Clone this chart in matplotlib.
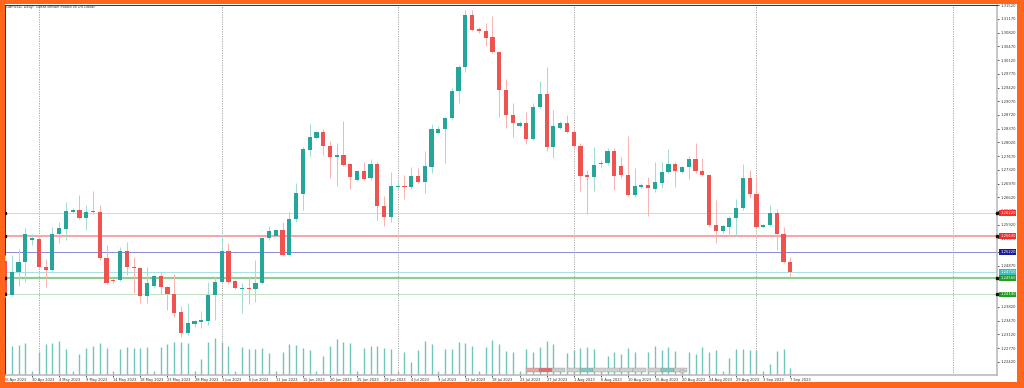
import matplotlib
matplotlib.use("Agg")
import matplotlib.pyplot as plt
from matplotlib.patches import Rectangle
import matplotlib.transforms as mtransforms

# ---------------- data ----------------
opens = [1.2499,1.2412,1.2471,1.2497,1.2553,1.2555,1.2484,1.2476,1.2568,1.2581,
         1.2624,1.2629,1.2609,1.2624,1.2624,1.2507,1.2451,1.2451,1.2525,1.2484,
         1.2481,1.2410,1.2435,1.2461,1.2433,1.2415,1.2369,1.2315,1.2338,1.2344,
         1.2346,1.2412,1.2446,1.2525,1.2448,1.2428,1.2430,1.2428,1.2443,1.2558,
         1.2563,1.2578,1.2515,1.2606,1.2670,1.2783,1.2813,1.2829,1.2793,1.2765,
         1.2770,1.2747,1.2706,1.2729,1.2711,1.2747,1.2640,1.2612,1.2688,1.2691,
         1.2688,1.2716,1.2701,1.2739,1.2826,1.2836,1.2864,1.2933,1.2994,1.3127,
         1.3091,1.3086,1.3071,1.3033,1.2936,1.2872,1.2844,1.2852,1.2811,1.2892,
         1.2926,1.2790,1.2839,1.2852,1.2829,1.2793,1.2719,1.2714,1.2747,1.2749,
         1.2780,1.2742,1.2719,1.2668,1.2688,1.2693,1.2683,1.2698,1.2726,1.2747,
         1.2726,1.2739,1.2760,1.2729,1.2719,1.2591,1.2576,1.2586,1.2609,1.2635,
         1.2711,1.2670,1.2586,1.2591,1.2622,1.2568,1.2497]
highs = [1.2515,1.2515,1.2530,1.2584,1.2568,1.2558,1.2504,1.2586,1.2599,1.2650,
         1.2635,1.2668,1.2642,1.2678,1.2642,1.2540,1.2456,1.2535,1.2548,1.2509,
         1.2484,1.2484,1.2463,1.2471,1.2435,1.2466,1.2384,1.2392,1.2349,1.2372,
         1.2446,1.2458,1.2566,1.2545,1.2451,1.2443,1.2458,1.2502,1.2560,1.2589,
         1.2581,1.2599,1.2624,1.2698,1.2790,1.2849,1.2831,1.2836,1.2806,1.2800,
         1.2857,1.2749,1.2732,1.2752,1.2760,1.2752,1.2665,1.2726,1.2706,1.2719,
         1.2739,1.2737,1.2780,1.2849,1.2844,1.2867,1.2941,1.2999,1.3140,1.3140,
         1.3097,1.3107,1.3125,1.3035,1.2964,1.2903,1.2857,1.2880,1.2903,1.2959,
         1.2994,1.2885,1.2857,1.2872,1.2834,1.2800,1.2732,1.2790,1.2757,1.2788,
         1.2788,1.2765,1.2818,1.2737,1.2698,1.2714,1.2752,1.2752,1.2785,1.2752,
         1.2742,1.2767,1.2800,1.2762,1.2721,1.2655,1.2591,1.2614,1.2657,1.2747,
         1.2732,1.2711,1.2594,1.2642,1.2632,1.2586,1.2509]
lows = [1.2407,1.2410,1.2435,1.2446,1.2540,1.2481,1.2433,1.2474,1.2545,1.2553,
        1.2622,1.2606,1.2578,1.2619,1.2502,1.2440,1.2443,1.2448,1.2463,1.2418,
        1.2392,1.2392,1.2433,1.2415,1.2374,1.2356,1.2305,1.2310,1.2331,1.2328,
        1.2336,1.2349,1.2443,1.2440,1.2428,1.2366,1.2389,1.2394,1.2440,1.2553,
        1.2560,1.2512,1.2512,1.2599,1.2629,1.2767,1.2811,1.2770,1.2711,1.2691,
        1.2742,1.2683,1.2703,1.2706,1.2706,1.2604,1.2589,1.2599,1.2683,1.2657,
        1.2683,1.2698,1.2673,1.2724,1.2824,1.2749,1.2862,1.2903,1.2982,1.3086,
        1.3081,1.3048,1.3030,1.2867,1.2839,1.2816,1.2841,1.2798,1.2808,1.2890,
        1.2780,1.2762,1.2836,1.2826,1.2788,1.2678,1.2619,1.2678,1.2739,1.2744,
        1.2680,1.2711,1.2665,1.2663,1.2686,1.2614,1.2675,1.2686,1.2724,1.2688,
        1.2724,1.2709,1.2724,1.2716,1.2589,1.2545,1.2571,1.2563,1.2563,1.2629,
        1.2660,1.2584,1.2584,1.2589,1.2527,1.2494,1.2461]
closes = [1.2412,1.2471,1.2497,1.2568,1.2558,1.2484,1.2476,1.2568,1.2584,1.2627,
          1.2629,1.2609,1.2624,1.2627,1.2507,1.2443,1.2448,1.2525,1.2484,1.2481,
          1.2410,1.2443,1.2461,1.2433,1.2415,1.2366,1.2315,1.2341,1.2346,1.2349,
          1.2412,1.2446,1.2525,1.2446,1.2430,1.2430,1.2428,1.2443,1.2558,1.2576,
          1.2578,1.2515,1.2606,1.2673,1.2785,1.2816,1.2829,1.2793,1.2765,1.2770,
          1.2744,1.2714,1.2729,1.2709,1.2747,1.2640,1.2612,1.2691,1.2691,1.2688,
          1.2716,1.2701,1.2742,1.2836,1.2836,1.2864,1.2933,1.2994,1.3127,1.3089,
          1.3086,1.3069,1.3033,1.2936,1.2872,1.2852,1.2852,1.2811,1.2892,1.2926,
          1.2790,1.2844,1.2852,1.2829,1.2793,1.2716,1.2714,1.2744,1.2749,1.2780,
          1.2716,1.2719,1.2668,1.2691,1.2693,1.2686,1.2701,1.2726,1.2747,1.2729,
          1.2739,1.2760,1.2729,1.2719,1.2591,1.2576,1.2589,1.2609,1.2635,1.2711,
          1.2670,1.2586,1.2591,1.2622,1.2568,1.2497,1.2471]
# tick volume (thousands)
volumes = [84,87,90,96,12,69,93,96,102,78,
           12,63,81,87,96,81,12,78,84,81,
           81,84,12,84,93,99,99,96,12,48,
           99,111,99,87,12,84,78,78,81,66,
           12,69,93,90,81,75,12,57,87,108,
           99,96,12,81,87,87,81,78,12,69,
           39,75,102,93,12,78,78,99,96,87,
           12,84,105,93,72,69,12,78,69,84,
           102,93,12,66,75,81,84,78,12,57,
           69,63,81,69,12,69,87,75,84,72,
           12,69,63,84,69,75,12,51,78,78,
           75,75,12,33,72,78,21]

first_label = "26 Apr 2023"
tick_idx = list(range(4, 117, 4))
tick_labels = ["30 Apr 2023", "4 May 2023", "9 May 2023", "14 May 2023", "18 May 2023",
               "23 May 2023", "28 May 2023", "1 Jun 2023", "6 Jun 2023", "11 Jun 2023",
               "15 Jun 2023", "20 Jun 2023", "25 Jun 2023", "29 Jun 2023", "4 Jul 2023",
               "9 Jul 2023", "13 Jul 2023", "18 Jul 2023", "23 Jul 2023", "27 Jul 2023",
               "1 Aug 2023", "6 Aug 2023", "10 Aug 2023", "15 Aug 2023", "20 Aug 2023",
               "24 Aug 2023", "29 Aug 2023", "3 Sep 2023", "7 Sep 2023"]
month_grid_idx = [5, 32, 58, 84, 111, 140]

price_top = 1.31520
price_step = 0.0035
n_price_labels = 27

hline_prices = [1.2622, 1.2563, 1.2522, 1.2471, 1.2456, 1.2414]
hline_colors = ["#ffc4c4", "#f7a6a6", "#8c8cd8", "#a9e2df", "#92cc92", "#bfe3bf"]
hline_widths = [1.0, 2.0, 1.0, 1.0, 2.2, 1.0]
hline_tag_colors = ["#ff2a2a", "#f52a2a", "#1c1ca0", "#3cbfbf", "#1f9f1f", "#1f9f1f"]
hline_marked = [True, True, False, False, True, True]

title = "GBPUSD, Daily:  Great Britain Pound vs US Dollar"

# ---------------- figure ----------------
W, H = 1024, 388
fig = plt.figure(figsize=(W / 100, H / 100), dpi=100)
fig.patch.set_facecolor("white")
PX = 0.72  # points per pixel

ax_l, ax_r, ax_t, ax_b = 5, 997, 5, 375
rect = [ax_l / W, (H - ax_b) / H, (ax_r - ax_l) / W, (ax_b - ax_t) / H]
bar_px = 6.77
xmax = (ax_r - ax_l) / bar_px
ymin, ymax = 1.22082, 1.31527

# volume axes (behind)
axv = fig.add_axes(rect, zorder=1)
axv.set_xlim(0, xmax)
axv.set_ylim(0, (ax_b - ax_t) * 3)
axv.axis("off")
n = len(opens)
xs = list(range(n))
axv.vlines(xs, 0, volumes, color="#6fc6bd", linewidth=1.4 * PX)

# price axes
ax = fig.add_axes(rect, zorder=2)
ax.patch.set_alpha(0)
ax.set_xlim(0, xmax)
ax.set_ylim(ymin, ymax)

for gx in month_grid_idx:
    ax.axvline(gx, color="#a8a8a8", linewidth=1.0 * PX, linestyle=(0, (1.2, 1.2)), zorder=1)

for p, c, w in zip(hline_prices, hline_colors, hline_widths):
    ax.axhline(p, color=c, linewidth=w * PX, zorder=2)

bull_body, bear_body = "#26a69a", "#ef5350"
bull_wick, bear_wick = "#a3dbd5", "#f7b4b3"
min_h = 0.00026
for i in xs:
    o, h, l, c = opens[i], highs[i], lows[i], closes[i]
    up = c >= o
    ax.vlines(i, l, h, color=bull_wick if up else bear_wick, linewidth=1.0 * PX, zorder=3)
    lo = min(o, c)
    hh = max(abs(c - o), min_h)
    ax.bar(i, hh, bottom=lo, width=0.62, color=bull_body if up else bear_body,
           linewidth=0, zorder=4)

# frame
for s in ["top", "left"]:
    ax.spines[s].set_color("#3a3a3a")
    ax.spines[s].set_linewidth(1.0 * PX)
for s in ["right", "bottom"]:
    ax.spines[s].set_color("#b8b8b8")
    ax.spines[s].set_linewidth(1.6 * PX)

# price axis labels
yt = [price_top - price_step * k for k in range(n_price_labels)]
ax.yaxis.tick_right()
ax.set_yticks(yt)
ax.set_yticklabels(["%.5f" % v for v in yt])
ax.tick_params(axis="y", direction="out", length=2 * PX, width=0.8 * PX,
               color="#333333", pad=1.2, labelsize=2.7, labelcolor="#333333")

# time axis
ax.set_xticks(tick_idx)
ax.set_xticklabels([])
ax.tick_params(axis="x", direction="out", length=2 * PX, width=0.8 * PX, color="#333333")
tr = mtransforms.blended_transform_factory(ax.transData, ax.transAxes)
off = -4.5 / (ax_b - ax_t)
for xi, lab in zip(tick_idx, tick_labels):
    ax.text(xi, off, lab, transform=tr, ha="left", va="center", fontsize=2.6,
            color="#333333", clip_on=False)
ax.text(-0.15, off, first_label, transform=tr, ha="left", va="center", fontsize=2.6,
        color="#333333", clip_on=False)

# tags on the right for horizontal lines
trr = mtransforms.blended_transform_factory(ax.transAxes, ax.transData)
for p, tc, mk in zip(hline_prices, hline_tag_colors, hline_marked):
    ax.text(1.0 + 3.2 / (ax_r - ax_l), p, "%.5f" % p, transform=trr, ha="left", va="center",
            fontsize=2.7, color="white", clip_on=False, zorder=6,
            bbox=dict(facecolor=tc, edgecolor="none", pad=0.5))
    if mk:
        ax.plot([0.0, 1.0], [p, p], transform=trr, linestyle="none", marker="s",
                markersize=1.6, color="#111111", clip_on=False, zorder=7)

# title
ax.text(1.5 / (ax_r - ax_l), 1 - 2.2 / (ax_b - ax_t), title, transform=ax.transAxes,
        ha="left", va="center", fontsize=2.6, color="#333333")

# small marker boxes in the time axis area
def px_rect(x0, y0, w, h, color, z=8):
    fig.add_artist(Rectangle((x0 / W, 1 - (y0 + h) / H), w / W, h / H,
                             transform=fig.transFigure, facecolor=color,
                             edgecolor="#9a9a9a", linewidth=0.3, zorder=z))

groups = [(526, ["#e9a3a3", "#e46a6a", "#c9c9c9"]),
          (567, ["#cfcfcf", "#7fc7bf", "#cfcfcf"]),
          (607, ["#cfcfcf", "#cfcfcf", "#cfcfcf"]),
          (648, ["#cfcfcf", "#7fc7bf", "#cfcfcf"])]
for gx0, cols in groups:
    for j, col in enumerate(cols):
        px_rect(gx0 + j * 13, 367.5, 12.5, 4.5, col)
px_rect(680, 370, 4, 3, "#d0d0d0")

# orange border
orange = "#ff661c"
for (x0, y0, w, h) in [(0, 0, W, 4), (0, H - 6, W, 6), (0, 0, 4.5, H), (W - 7, 0, 7, H)]:
    fig.add_artist(Rectangle((x0 / W, 1 - (y0 + h) / H), w / W, h / H,
                             transform=fig.transFigure, facecolor=orange,
                             edgecolor="none", zorder=10))

fig.savefig("out.png", dpi=100, facecolor="white")
